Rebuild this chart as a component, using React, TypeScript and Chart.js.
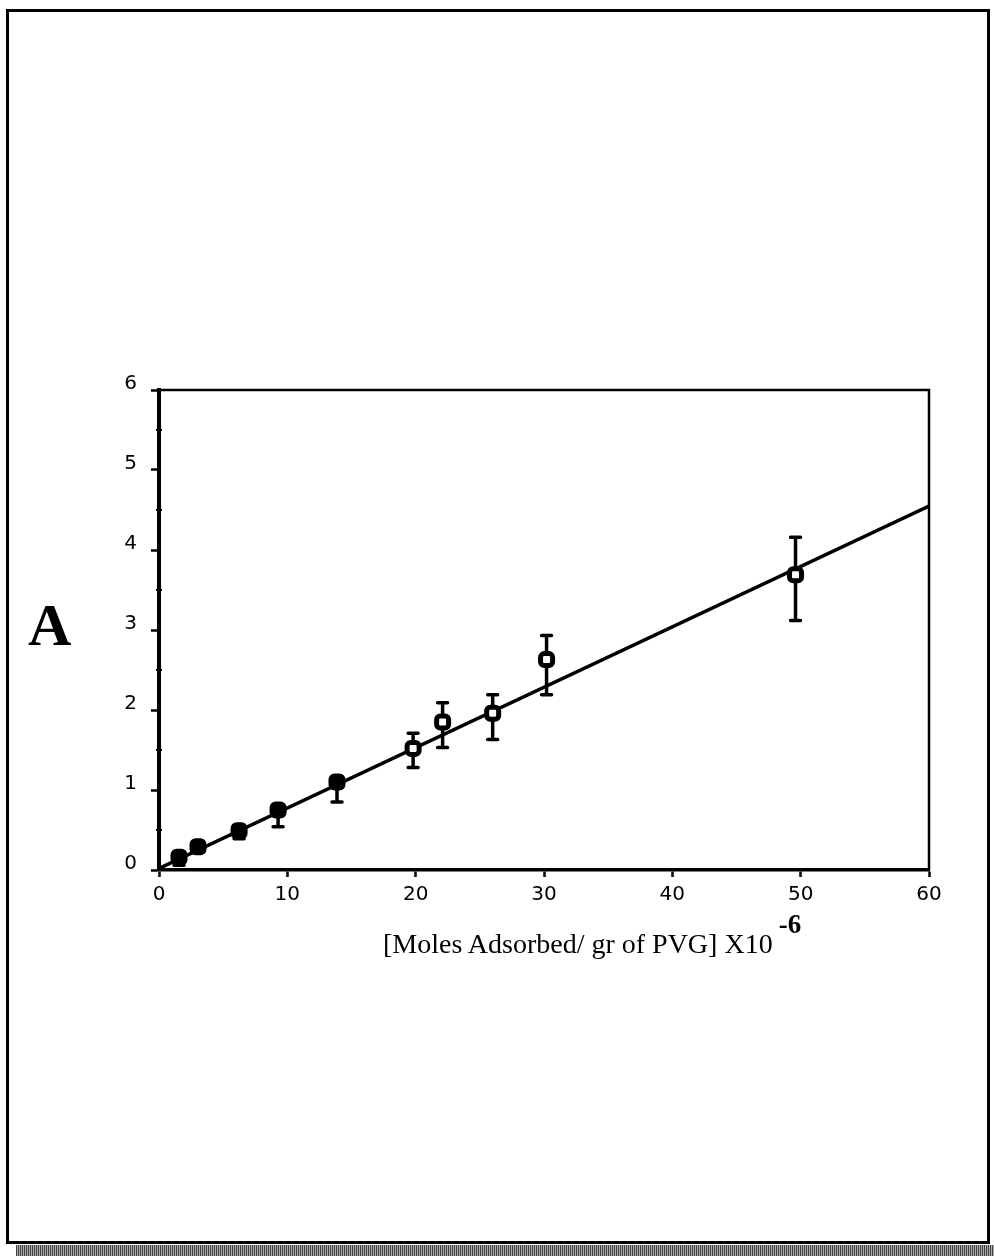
import React, { useEffect, useRef } from "react";
import { Chart, registerables } from "chart.js";

Chart.register(...registerables);

// Data
const xValues = [1.56, 3.04, 6.24, 9.28, 13.87, 19.8, 22.1, 26.0, 30.2, 49.6];
const yValues = [0.16, 0.29, 0.49, 0.75, 1.1, 1.52, 1.85, 1.96, 2.63, 3.69];
const errLow = [0.06, 0.26, 0.39, 0.54, 0.85, 1.28, 1.53, 1.63, 2.19, 3.12];
const errHigh = [0.2, 0.32, 0.53, 0.78, 1.13, 1.71, 2.09, 2.19, 2.93, 4.16];
const fitX = [0, 60];
const fitY = [0.02, 4.55];
const xTickValues = [0, 10, 20, 30, 40, 50, 60];
const yTickValues = [0, 1, 2, 3, 4, 5, 6];
const yMinorTicks = [0.5, 1.5, 2.5, 3.5, 4.5, 5.5];
const xAxisTitle = "[Moles Adsorbed/ gr of PVG] X10";
const xAxisTitleSup = "-6";
const panelLabel = "A";

const tickFont = { family: "'DejaVu Sans', 'Liberation Sans', sans-serif", size: 20, weight: "normal" };

const framePlugin = {
  id: "frameAndErrors",
  beforeDatasetsDraw(chart: any) {
    const { ctx, chartArea, scales } = chart;
    const xs = scales.x;
    const ys = scales.y;
    ctx.save();
    // top and right border of the plot
    ctx.strokeStyle = "#000";
    ctx.lineWidth = 2.5;
    ctx.beginPath();
    ctx.moveTo(chartArea.left, chartArea.top);
    ctx.lineTo(chartArea.right, chartArea.top);
    ctx.lineTo(chartArea.right, chartArea.bottom);
    ctx.stroke();
    // minor ticks on y axis
    ctx.lineWidth = 2;
    yMinorTicks.forEach((v) => {
      const py = ys.getPixelForValue(v);
      ctx.beginPath();
      ctx.moveTo(chartArea.left - 3, py);
      ctx.lineTo(chartArea.left + 3, py);
      ctx.stroke();
    });
    // error bars
    ctx.lineWidth = 3.5;
    ctx.lineCap = "round";
    xValues.forEach((xv, i) => {
      const px = xs.getPixelForValue(xv);
      const pLo = ys.getPixelForValue(errLow[i]);
      const pHi = ys.getPixelForValue(errHigh[i]);
      ctx.beginPath();
      ctx.moveTo(px, pLo);
      ctx.lineTo(px, pHi);
      ctx.moveTo(px - 5, pLo);
      ctx.lineTo(px + 5, pLo);
      ctx.moveTo(px - 5, pHi);
      ctx.lineTo(px + 5, pHi);
      ctx.stroke();
    });
    ctx.restore();
  },
};

export default function App() {
  const canvasRef = useRef<HTMLCanvasElement | null>(null);

  useEffect(() => {
    const canvas = canvasRef.current;
    if (!canvas) return;
    const chart = new Chart(canvas, {
      type: "scatter",
      data: {
        datasets: [
          {
            label: "data",
            data: xValues.map((x, i) => ({ x, y: yValues[i] })),
            pointStyle: "rectRounded",
            pointRadius: 7,
            borderWidth: 5,
            borderColor: "#000",
            backgroundColor: xValues.map((_, i) => (i < 5 ? "#000" : "#fff")),
            showLine: false,
          },
          {
            label: "fit",
            data: fitX.map((x, i) => ({ x, y: fitY[i] })),
            showLine: true,
            borderColor: "#000",
            borderWidth: 3.5,
            pointRadius: 0,
            fill: false,
          },
        ],
      },
      options: {
        responsive: false,
        animation: false,
        devicePixelRatio: 1,
        layout: { padding: { top: 30, right: 65, left: 0, bottom: 0 } },
        plugins: {
          legend: { display: false },
          tooltip: { enabled: false },
        },
        scales: {
          x: {
            type: "linear",
            min: 0,
            max: 60,
            afterFit: (s: any) => {
              s.height = 90;
            },
            afterBuildTicks: (s: any) => {
              s.ticks = xTickValues.map((v) => ({ value: v }));
            },
            border: { display: true, color: "#000", width: 3.5 },
            grid: {
              drawOnChartArea: false,
              drawTicks: true,
              tickLength: 7,
              tickWidth: 2.5,
              tickColor: "#000",
            },
            ticks: { color: "#000", font: tickFont, padding: 6, maxRotation: 0 },
          },
          y: {
            type: "linear",
            min: 0,
            max: 6,
            afterFit: (s: any) => {
              s.width = 159;
            },
            afterBuildTicks: (s: any) => {
              s.ticks = yTickValues.map((v) => ({ value: v }));
            },
            border: { display: true, color: "#000", width: 4 },
            grid: {
              drawOnChartArea: false,
              drawTicks: true,
              tickLength: 8,
              tickWidth: 2.5,
              tickColor: "#000",
            },
            ticks: { color: "#000", font: tickFont, padding: 14, labelOffset: -6 },
          },
        },
      },
      plugins: [framePlugin],
    });
    return () => chart.destroy();
  }, []);

  return (
    <div
      style={{
        position: "fixed",
        left: 0,
        top: 0,
        width: 994,
        height: 1258,
        background: "#fff",
        overflow: "hidden",
      }}
    >
      {/* outer frame */}
      <div
        style={{
          position: "absolute",
          left: 6,
          top: 9,
          width: 984,
          height: 1235,
          border: "3px solid #000",
          boxSizing: "border-box",
        }}
      />
      {/* bottom shadow band */}
      <div
        style={{
          position: "absolute",
          left: 16,
          top: 1245,
          width: 978,
          height: 11,
          background:
            "repeating-linear-gradient(90deg, #444 0px, #444 1px, #aaa 1px, #aaa 2px)",
        }}
      />
      <canvas
        ref={canvasRef}
        width={994}
        height={600}
        style={{ position: "absolute", left: 0, top: 360, width: 994, height: 600 }}
      />
      <div
        style={{
          position: "absolute",
          left: 28,
          top: 590,
          fontFamily: "'Liberation Serif', 'DejaVu Serif', serif",
          fontWeight: "bold",
          fontSize: 60,
          lineHeight: "70px",
          color: "#000",
        }}
      >
        {panelLabel}
      </div>
      <div
        style={{
          position: "absolute",
          left: 383,
          top: 928,
          fontFamily: "'Liberation Serif', 'DejaVu Serif', serif",
          fontSize: 28,
          lineHeight: "32px",
          color: "#000",
          whiteSpace: "nowrap",
        }}
      >
        {xAxisTitle}
        <span
          style={{
            position: "relative",
            top: -20,
            marginLeft: 6,
            fontWeight: "bold",
            fontSize: 27,
          }}
        >
          {xAxisTitleSup}
        </span>
      </div>
    </div>
  );
}
